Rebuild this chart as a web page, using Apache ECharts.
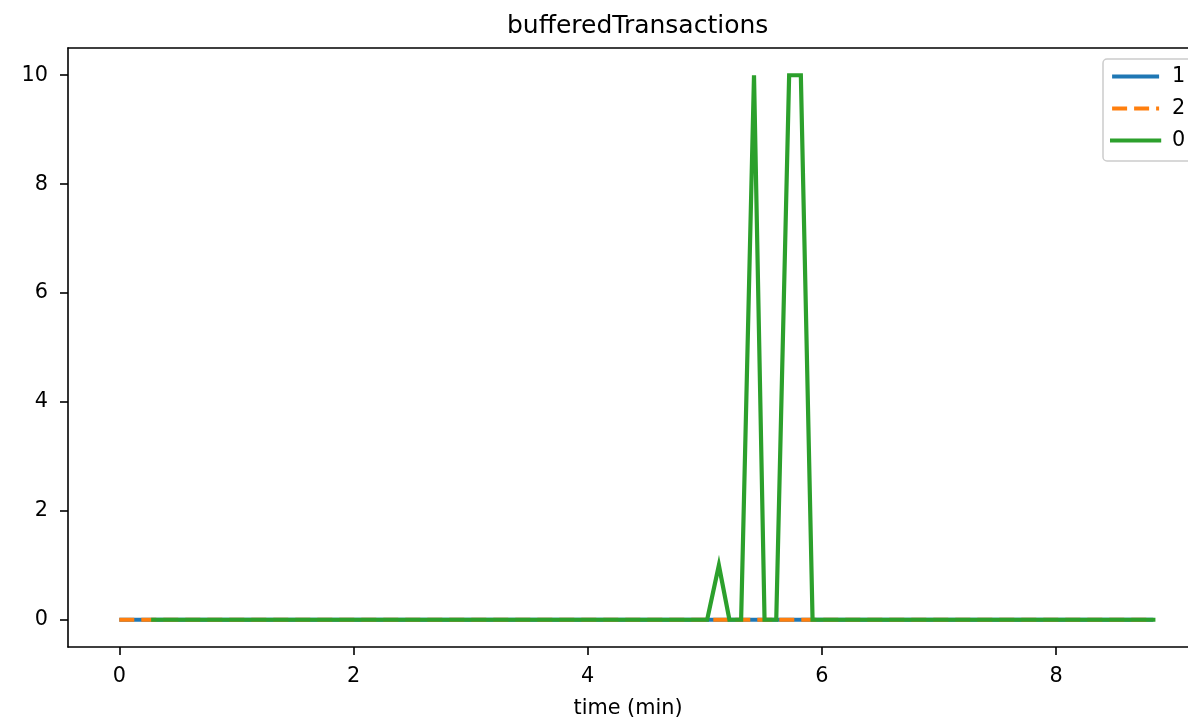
<!DOCTYPE html>
<html>
<head>
<meta charset="utf-8">
<script src="https://cdn.jsdelivr.net/npm/echarts@6/dist/echarts.min.js"></script>
<style>
  html, body { margin: 0; padding: 0; background: #fff; }
  #chart { width: 1188px; height: 721px; }
</style>
</head>
<body>
<div id="chart"></div>
<script>
// ---- data ----
const titleText = 'bufferedTransactions';
const xAxisName = 'time (min)';
const xTicks = [0, 2, 4, 6, 8];
const yTicks = [0, 2, 4, 6, 8, 10];

const series1Time = [0, 8.83];
const series1Vals = [0, 0];

const series2Time = [0, 8.83];
const series2Vals = [0, 0];

const series0Time = [0.29, 5.02, 5.12, 5.21, 5.31, 5.42, 5.51, 5.61, 5.72, 5.82, 5.92, 8.83];
const series0Vals = [0,    0,    1,    0,    0,    10,   0,    0,    10,   10,   0,    0];

const seriesNames = ['1', '2', '0'];
const colors = ['#1f77b4', '#ff7f0e', '#2ca02c'];

function pairs(t, v) { return t.map((x, i) => [x, v[i]]); }

const FONT = 'DejaVu Sans';
const chart = echarts.init(document.getElementById('chart'), null, { renderer: 'canvas' });

const LW = 4.2;
const option = {
  animation: false,
  backgroundColor: '#ffffff',
  title: {
    text: titleText,
    left: 502,
    top: 9,
    textStyle: { fontFamily: FONT, fontSize: 25, fontWeight: 'normal', color: '#000' }
  },
  legend: {
    orient: 'vertical',
    left: 1103,
    top: 59,
    padding: [7, 40, 10, 7],
    itemWidth: 47,
    itemHeight: 14,
    itemGap: 11,
    backgroundColor: 'rgba(255,255,255,0.8)',
    borderColor: '#cccccc',
    borderWidth: 1.5,
    borderRadius: 4,
    data: seriesNames,
    itemStyle: { opacity: 0 },
    textStyle: { fontFamily: FONT, fontSize: 20.8, color: '#000', lineHeight: 20, padding: [0, 0, 0, 8] }
  },
  grid: {
    left: 68,
    top: 48,
    right: 0,
    bottom: 74,
    show: false,
    containLabel: false,
    outerBoundsMode: 'none'
  },
  xAxis: [{
    type: 'value',
    min: -0.438,
    max: 9.126,
    name: xAxisName,
    nameLocation: 'middle',
    nameGap: 51,
    nameTextStyle: { fontFamily: FONT, fontSize: 20.8, color: '#000' },
    splitLine: { show: false },
    axisLine: { show: true, onZero: false, lineStyle: { color: '#000', width: 1.6 } },
    axisTick: { show: true, length: 8, customValues: xTicks, lineStyle: { color: '#000', width: 1.6 } },
    axisLabel: { customValues: xTicks, margin: 19, fontFamily: FONT, fontSize: 20.8, color: '#000' }
  }, {
    type: 'value',
    position: 'top',
    min: -0.438,
    max: 9.126,
    splitLine: { show: false },
    axisLine: { show: true, onZero: false, lineStyle: { color: '#000', width: 1.6 } },
    axisTick: { show: false },
    axisLabel: { show: false }
  }],
  yAxis: {
    type: 'value',
    min: -0.5,
    max: 10.5,
    splitLine: { show: false },
    axisLine: { show: true, onZero: false, lineStyle: { color: '#000', width: 1.6 } },
    axisTick: { show: true, length: 8, customValues: yTicks, lineStyle: { color: '#000', width: 1.6 } },
    axisLabel: { customValues: yTicks, margin: 20, fontFamily: FONT, fontSize: 20.8, color: '#000' }
  },
  series: [
    {
      name: seriesNames[0], type: 'line', symbol: 'none', z: 2,
      data: pairs(series1Time, series1Vals),
      itemStyle: { color: colors[0] },
      lineStyle: { color: colors[0], width: LW }
    },
    {
      name: seriesNames[1], type: 'line', symbol: 'none', z: 3,
      data: pairs(series2Time, series2Vals),
      itemStyle: { color: colors[1] },
      lineStyle: { color: colors[1], width: LW, type: [15, 7] }
    },
    {
      name: seriesNames[2], type: 'line', symbol: 'none', z: 4,
      data: pairs(series0Time, series0Vals),
      itemStyle: { color: colors[2] },
      lineStyle: { color: colors[2], width: LW, cap: 'square', join: 'miter' }
    }
  ]
};
option.legend.lineStyle = { width: LW };
chart.setOption(option);
</script>
</body>
</html>
